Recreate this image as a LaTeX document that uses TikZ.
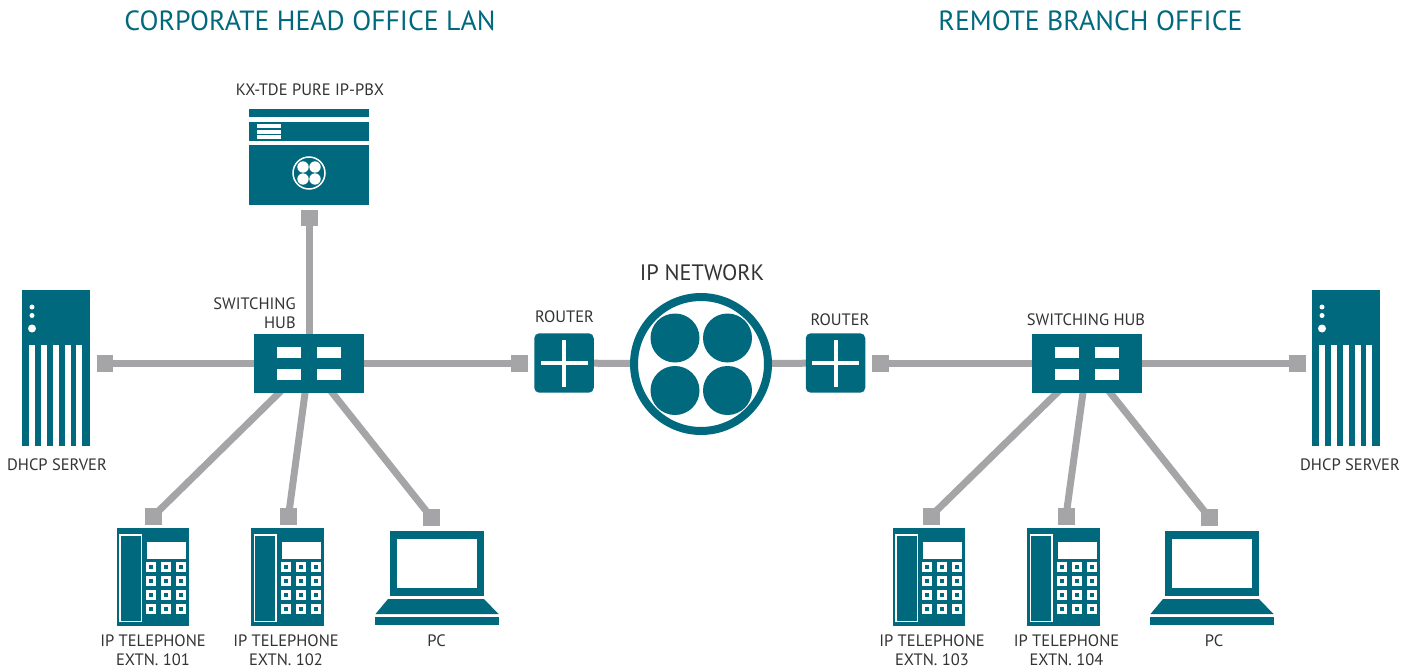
\documentclass[tikz,border=0pt]{standalone}
\usepackage{fontspec}
\setmainfont{PT Sans}
\usetikzlibrary{backgrounds}
\definecolor{netteal}{HTML}{00697D}
\definecolor{netgray}{HTML}{A5A5A7}
\definecolor{nettext}{HTML}{333333}
\tikzset{
  link/.style={draw=netgray, line width=0.14cm},
  port/.style={fill=netgray, inner sep=0, minimum width=0.34cm, minimum height=0.34cm},
  hub/.style={fill=netteal, inner sep=0, minimum width=2.2cm, minimum height=1.18cm},
  router/.style={fill=netteal, inner sep=0, rounded corners=0.1cm, minimum width=1.19cm, minimum height=1.19cm},
  ipnet/.style={circle, draw=netteal, fill=white, line width=0.16cm, inner sep=0, minimum size=2.68cm},
  label/.style={text=nettext, font=\fontsize{9.4}{11}\selectfont, inner sep=0, anchor=center},
  heading/.style={text=netteal, font=\fontsize{15.8}{19}\selectfont, inner sep=0, anchor=center},
}
\newcommand{\hubwindows}[2]{
  \begin{scope}[shift={(#1,#2)}]
    \fill[white] (-32,-16.5) rectangle (-8,-5.5);
    \fill[white] (8,-16.5) rectangle (32,-5.5);
    \fill[white] (-32,5.5) rectangle (-8,16.5);
    \fill[white] (8,5.5) rectangle (32,16.5);
  \end{scope}
}
\newcommand{\routerplus}[2]{
  \begin{scope}[shift={(#1,#2)}]
    \fill[white] (-23.5,-2) rectangle (23.5,2);
    \fill[white] (-2,-23.5) rectangle (2,23.5);
  \end{scope}
}
\newcommand{\serverbox}[1]{
  \begin{scope}[shift={(#1,0)}]
    \fill[netteal] (22,290) rectangle (89.5,446);
    \fill[white] (32,307) circle (2.5);
    \fill[white] (32,315.5) circle (2.5);
    \fill[white] (32,328.5) circle (4);
    \foreach \xpos in {29,41,53,65,76}
      \fill[white] (\xpos,345) rectangle (\xpos+6,446);
  \end{scope}
}
\newcommand{\phonebox}[1]{
  \begin{scope}[shift={(#1,0)}]
    \fill[netteal] (116.7,528) rectangle (189,625.7);
    \draw[white, line width=0.035cm] (120,535) rectangle (141.5,621.5);
    \fill[white] (147,542) rectangle (186,559);
    \foreach \xpos in {151,166,181}
      \foreach \ypos in {567,581,595,609} {
        \fill[white] (\xpos-5,\ypos-5) rectangle (\xpos+5,\ypos+5);
        \fill[netteal] (\xpos-2,\ypos-2) rectangle (\xpos+2,\ypos+2);
      }
  \end{scope}
}
\newcommand{\laptopbox}[1]{
  \begin{scope}[shift={(#1,0)}]
    \fill[netteal] (389.5,531) rectangle (484,596);
    \fill[white] (397,539) rectangle (477,588);
    \fill[netteal] (388,599) -- (484,599) -- (498.5,614) -- (375.5,614) -- cycle;
    \fill[netteal] (375,617) rectangle (499,625);
  \end{scope}
}
\begin{document}
\begin{tikzpicture}[x=0.02cm, y=-0.02cm]
\useasboundingbox (0,0) rectangle (1413,669);

\node[heading] (titleHead) at (310,21) {CORPORATE HEAD OFFICE LAN};
\node[heading] (titleBranch) at (1090.5,21) {REMOTE BRANCH OFFICE};

\fill[netteal] (249,109) rectangle (369,117);
\fill[netteal] (249,122) rectangle (369,141);
\fill[netteal] (249,145) rectangle (369,205);
\fill[white] (257,124) rectangle (281,128.5);
\fill[white] (257,130) rectangle (281,134);
\fill[white] (257,135) rectangle (281,139);
\draw[white, line width=0.03cm] (309,173) circle (16);
\fill[white] (303,167) circle (5.7);
\fill[white] (315,167) circle (5.7);
\fill[white] (303,179) circle (5.7);
\fill[white] (315,179) circle (5.7);
\node[label] (labelPbx) at (310,90) {KX-TDE PURE IP-PBX};

\serverbox{0}
\serverbox{1290}
\node[label] (labelServerA) at (57,465) {DHCP SERVER};
\node[label] (labelServerB) at (1350,465) {DHCP SERVER};

\node[hub] (hubA) at (309,363.5) {};
\node[hub] (hubB) at (1087,363.5) {};
\hubwindows{309}{363.5}
\hubwindows{1087}{363.5}
\node[label, anchor=east] (labelHubA) at (296,304) {SWITCHING};
\node[label, anchor=east] (labelHubAb) at (296,323) {HUB};
\node[label] (labelHubB) at (1086,320) {SWITCHING HUB};

\node[router] (routerA) at (564,363) {};
\node[router] (routerB) at (835.5,363) {};
\routerplus{564}{363}
\routerplus{835.5}{363}
\node[label] (labelRouterA) at (564.5,317) {ROUTER};
\node[label] (labelRouterB) at (840,320) {ROUTER};

\node[ipnet] (net) at (701,364) {};
\fill[netteal] (675,338) circle (24.5);
\fill[netteal] (727.5,338) circle (24.5);
\fill[netteal] (675,390.5) circle (24.5);
\fill[netteal] (727.5,390.5) circle (24.5);
\node[label, font=\fontsize{12.7}{15}\selectfont] (labelNet) at (702,273) {IP NETWORK};

\phonebox{0}
\phonebox{134.5}
\laptopbox{0}
\phonebox{776}
\phonebox{910.5}
\laptopbox{775}
\node[label] (labelPhoneA) at (153,641) {IP TELEPHONE};
\node[label] (labelExtA) at (153,660) {EXTN. 101};
\node[label] (labelPhoneB) at (286,641) {IP TELEPHONE};
\node[label] (labelExtB) at (286,660) {EXTN. 102};
\node[label] (labelPcA) at (436.5,641) {PC};
\node[label] (labelPhoneC) at (932,641) {IP TELEPHONE};
\node[label] (labelExtC) at (932,660) {EXTN. 103};
\node[label] (labelPhoneD) at (1066.5,641) {IP TELEPHONE};
\node[label] (labelExtD) at (1066.5,660) {EXTN. 104};
\node[label] (labelPcB) at (1214,641) {PC};

\node[port] (portPbx) at (309,218) {};
\node[port] (portServerA) at (105,363.5) {};
\node[port] (portRouterA) at (519,363.5) {};
\node[port] (portPhoneA) at (153.5,516) {};
\node[port] (portPhoneB) at (288.5,516) {};
\node[port] (portPcA) at (431,517) {};
\node[port] (portRouterB) at (880,363.5) {};
\node[port] (portServerB) at (1297,363.5) {};
\node[port] (portPhoneC) at (931,516) {};
\node[port] (portPhoneD) at (1066,516) {};
\node[port] (portPcB) at (1209,517) {};

\begin{scope}[on background layer]
\draw[link] (hubA.center) -- (portPbx.center);
\draw[link] (hubA.center) -- (portServerA.center);
\draw[link] (hubA.center) -- (portRouterA.center);
\draw[link] (hubA.center) -- (portPhoneA.center);
\draw[link] (hubA.center) -- (portPhoneB.center);
\draw[link] (hubA.center) -- (portPcA.center);
\draw[link] (routerA.center) -- (net.center);
\draw[link] (net.center) -- (routerB.center);
\draw[link] (hubB.center) -- (portRouterB.center);
\draw[link] (hubB.center) -- (portServerB.center);
\draw[link] (hubB.center) -- (portPhoneC.center);
\draw[link] (hubB.center) -- (portPhoneD.center);
\draw[link] (hubB.center) -- (portPcB.center);
\end{scope}

\end{tikzpicture}
\end{document}
